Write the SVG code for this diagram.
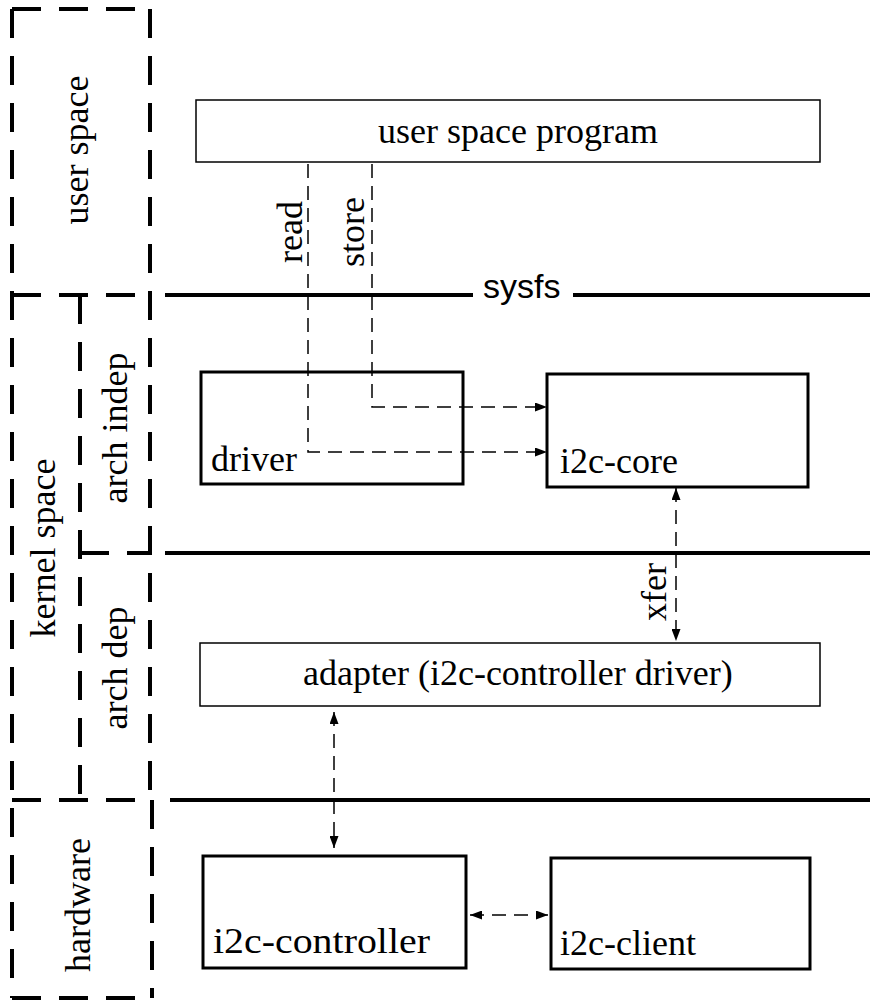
<svg xmlns="http://www.w3.org/2000/svg" width="874" height="1001" viewBox="0 0 874 1001">
<style>
.zone{fill:none;stroke:#000;stroke-width:4;stroke-dasharray:29 18}
.sep{stroke:#000;stroke-width:4;fill:none}
.thin{fill:#fff;stroke:#000;stroke-width:1.5}
.thick{fill:#fff;stroke:#000;stroke-width:3}
.conn{fill:none;stroke:#000;stroke-width:1.5;stroke-dasharray:14 8}
.serif{font-family:'Liberation Serif','Times New Roman',Times,Tinos,'Noto Serif','Nimbus Roman','Nimbus Roman No9 L',FreeSerif,'DejaVu Serif',serif;font-size:36px;fill:#000}
.sans{font-family:'Liberation Sans',Arial,'DejaVu Sans',sans-serif;font-size:34px;fill:#000}
</style>
<defs>
<marker id="ah" viewBox="0 0 12 9" refX="12" refY="4.5" markerWidth="12" markerHeight="9" markerUnits="userSpaceOnUse" orient="auto-start-reverse">
<path d="M0,0 L12,4.5 L0,9 z" fill="#000"/>
</marker>
</defs>
<rect width="874" height="1001" fill="#fff"/>
<g id="zones">
<path class="zone" d="M12,9 H150 M12,295 H150 M80,553 H150 M12,800 H152 M12,998 H152 M12,9 V998 M150,9 V800 M152,800 V998 M80,295 V800"/>
<g id="zone-user"><text class="serif" transform="rotate(-90 88 150)" x="88" y="150" text-anchor="middle">user space</text></g>
<g id="zone-kernel"><text class="serif" transform="rotate(-90 55 548)" x="55" y="548" text-anchor="middle">kernel space</text></g>
<g id="zone-indep"><text class="serif" transform="rotate(-90 127 428)" x="127" y="428" text-anchor="middle">arch indep</text></g>
<g id="zone-dep"><text class="serif" transform="rotate(-90 127 668)" x="127" y="668" text-anchor="middle">arch dep</text></g>
<g id="zone-hw"><text class="serif" transform="rotate(-90 90 905)" x="90" y="905" text-anchor="middle">hardware</text></g>
</g>
<g id="separators">
<path class="sep" d="M165,295 H473 M573,295 H870 M165,553 H870 M170,800 H870"/>
<text class="sans" x="483" y="298">sysfs</text>
</g>
<g id="n-usp"><rect class="thin" x="196" y="100" width="624" height="62"/><text class="serif" x="518" y="143" text-anchor="middle">user space program</text></g>
<g id="n-driver"><rect class="thick" x="201" y="372" width="262" height="112"/><text class="serif" x="211" y="471">driver</text></g>
<g id="n-core"><rect class="thick" x="547" y="374" width="261" height="113"/><text class="serif" x="560" y="473">i2c-core</text></g>
<g id="n-adapter"><rect class="thin" x="200" y="643" width="620" height="63"/><text class="serif" x="303" y="685">adapter (i2c-controller driver)</text></g>
<g id="n-ctrl"><rect class="thick" x="203" y="856" width="263" height="112"/><text class="serif" x="213" y="953" textLength="217" lengthAdjust="spacingAndGlyphs">i2c-controller</text></g>
<g id="n-client"><rect class="thick" x="551" y="858" width="259" height="111"/><text class="serif" x="560" y="955">i2c-client</text></g>
<g id="connectors">
<path class="conn" d="M308,164 V452 H547" marker-end="url(#ah)"/>
<path class="conn" d="M372,164 V407 H547" marker-end="url(#ah)"/>
<path class="conn" d="M676,488 V641" marker-start="url(#ah)" marker-end="url(#ah)"/>
<path class="conn" d="M334,712 V848" marker-start="url(#ah)" marker-end="url(#ah)"/>
<path class="conn" d="M470,915 H548" marker-start="url(#ah)" marker-end="url(#ah)"/>
<text class="serif" transform="rotate(-90 302 232)" x="302" y="232" text-anchor="middle">read</text>
<text class="serif" transform="rotate(-90 364 232)" x="364" y="232" text-anchor="middle">store</text>
<text class="serif" transform="rotate(-90 666 592)" x="666" y="592" text-anchor="middle">xfer</text>
</g>
</svg>
